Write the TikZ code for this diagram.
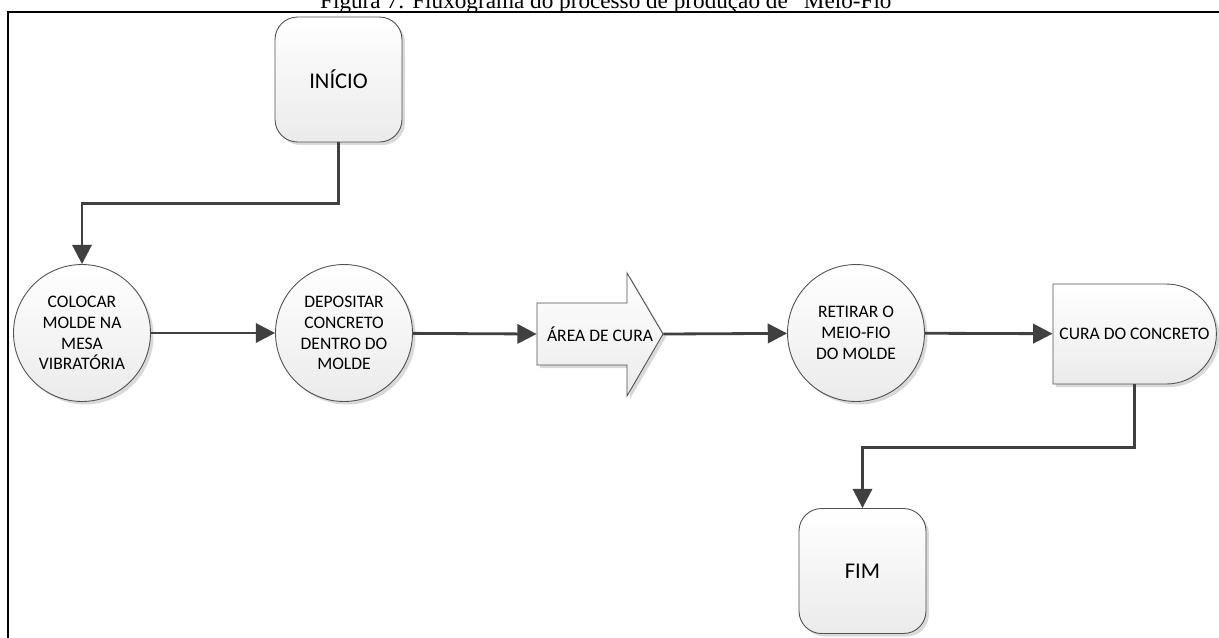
\documentclass[tikz,border=0pt]{standalone}
\usepackage{fontspec}
\setmainfont{Liberation Serif}
\newfontfamily\calib{Carlito}
\usetikzlibrary{arrows.meta,shadows,shapes.misc}

\definecolor{linha}{HTML}{404040}
\definecolor{contorno}{HTML}{505050}

\tikzset{
  caixa/.style={draw=contorno, line width=0.5pt, top color=white, bottom color=black!8,
    drop shadow={shadow xshift=0.06cm, shadow yshift=-0.06cm, fill=black!15, opacity=1},
    font=\calib\fontsize{10}{11.8}\selectfont, align=center, inner sep=1pt},
  etapa/.style={caixa, circle, minimum size=2.74cm},
  terminal/.style={caixa, rectangle, rounded corners=0.45cm, minimum width=2.54cm,
    minimum height=2.5cm, font=\calib\fontsize{12.8}{14}\selectfont},
  espera/.style={caixa, rounded rectangle, rounded rectangle west arc=none,
    minimum width=3.34cm, minimum height=2cm},
  seta/.style={draw=linha, line width=1.6pt, -{Triangle[length=11pt,width=11pt]}}
}

\begin{document}
\begin{tikzpicture}[x=0.02cm, y=-0.02cm]
        \useasboundingbox (0,0) rectangle (1219,637);

        \node[anchor=base, font=\fontsize{13.2}{15}\selectfont] (titulo) at (611,8.5)
          {Figura 7: Fluxograma do processo de produção de “Meio-Fio”};
        \draw[line width=1.4pt] (8,640) -- (8,12) -- (1222,12);

        \node[terminal] (inicio) at (338.5,79.5) {INÍCIO};

        \node[etapa] (colocar) at (82,333) {COLOCAR\\MOLDE NA\\MESA\\VIBRATÓRIA};
        \node[etapa] (depositar) at (344,333) {DEPOSITAR\\CONCRETO\\DENTRO DO\\MOLDE};

        % seta da area de cura
        \draw[caixa] (537,303) -- (627,303) -- (627,273) -- (663,334) -- (627,396)
          -- (627,365) -- (537,365) -- cycle;
        \node[font=\calib\fontsize{10}{11.8}\selectfont, minimum width=2.52cm,
          inner sep=0pt] (area) at (600,334) {ÁREA DE CURA};

        \node[etapa] (retirar) at (856,333) {RETIRAR O\\MEIO-FIO\\DO MOLDE};
        \node[espera] (cura) at (1134.5,334) {CURA DO CONCRETO};

        \node[terminal] (fim) at (862.5,571) {FIM};

        \draw[seta] (inicio.south) -- ++(0,61) -| (colocar.north);
        \draw[seta] (colocar) -- (depositar);
        \draw[seta] (depositar) -- (area.west);
        \draw[seta] (area.east) -- (retirar);
        \draw[seta] (retirar) -- (cura);
        \draw[seta] (cura.south) -- ++(0,63) -| (fim.north);
\end{tikzpicture}
\end{document}
